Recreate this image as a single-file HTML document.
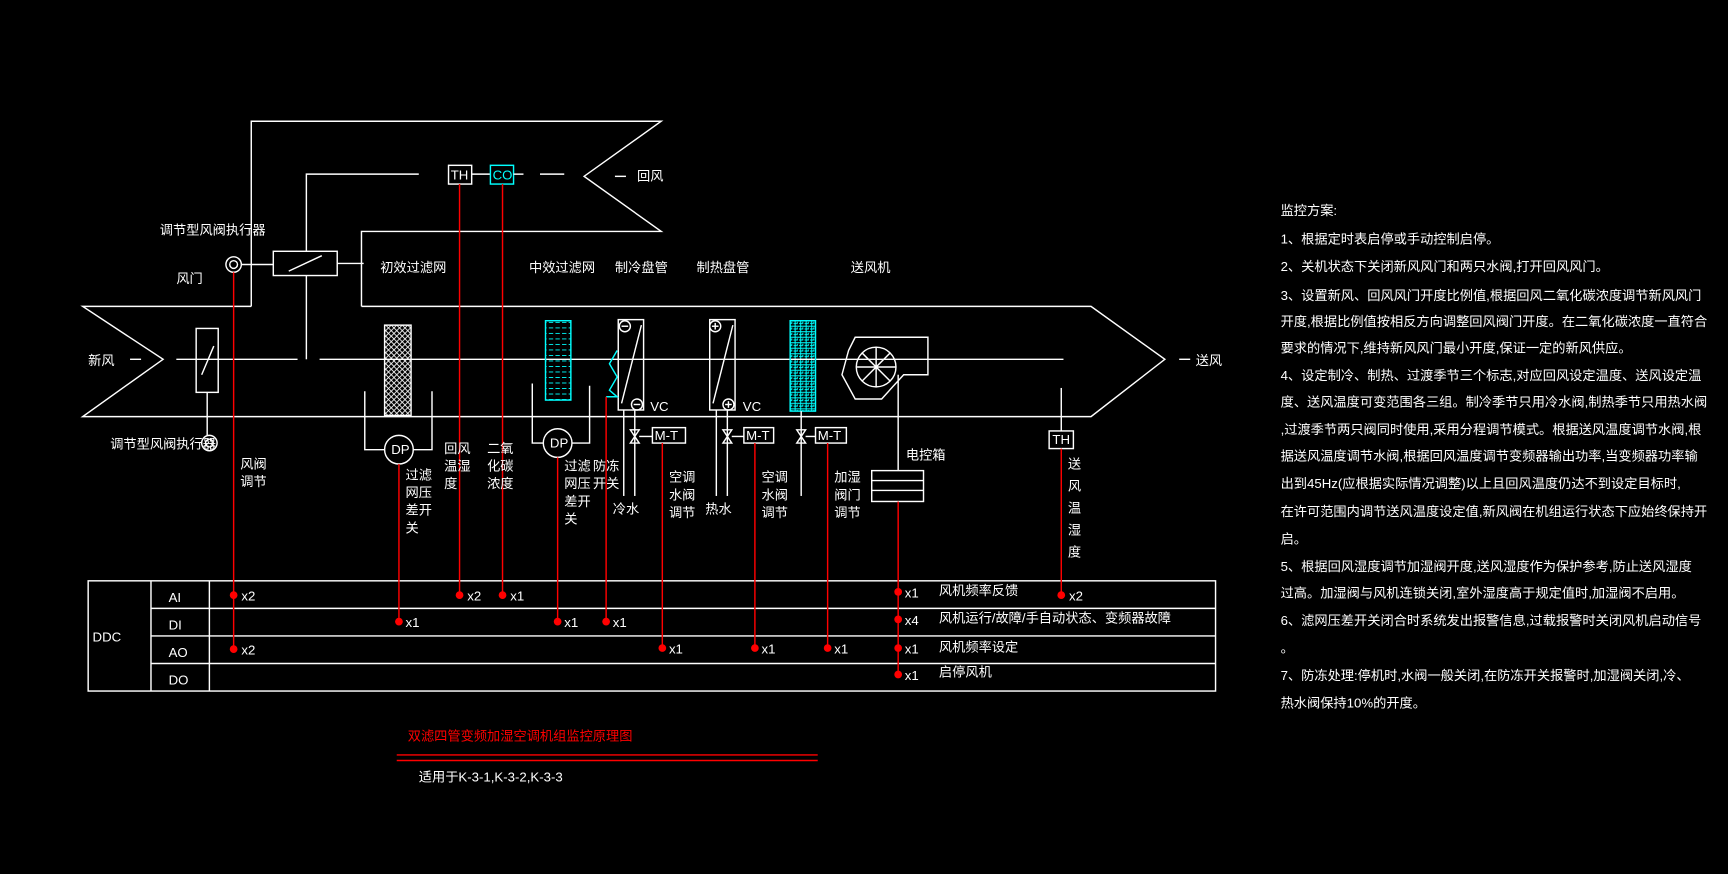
<!DOCTYPE html>
<html><head><meta charset="utf-8"><style>
html,body{margin:0;padding:0;background:#000;}
svg{display:block}
text{font-family:"Liberation Sans","Noto Sans CJK SC",sans-serif;fill:#fff;font-size:12px}
</style></head><body>
<svg width="1728" height="874" viewBox="0 0 1568 793" preserveAspectRatio="none" xmlns="http://www.w3.org/2000/svg">
<defs>
<pattern id="xh" width="5" height="5" patternUnits="userSpaceOnUse">
<path d="M0,0 L5,5 M5,0 L0,5" stroke="#fff" stroke-width="0.8"/>
</pattern>
<pattern id="st" width="6" height="5" patternUnits="userSpaceOnUse">
<path d="M0,2.5 L4,2.5" stroke="#0ff" stroke-width="0.8"/>
</pattern>
<pattern id="gr" width="5" height="5" patternUnits="userSpaceOnUse">
<path d="M0,1 L5,1 M1.5,0 L1.5,5 M3.5,2 L3.5,4 M0,3.5 L3,3.5" stroke="#0ff" stroke-width="0.9"/>
</pattern>
</defs>
<rect width="1568" height="793" fill="#000"/>
<rect x="349" y="295" width="24" height="82" fill="url(#xh)"/>
<rect x="495" y="291" width="23" height="72" fill="url(#st)"/>
<rect x="717" y="291" width="23" height="82" fill="url(#gr)"/>
<g stroke="#fff" stroke-width="1.3" fill="none">
<polyline points="228,278 228,110 600,110 530,160 600,210 328,210 328,278"/>
<polyline points="228,278 75,278 148,326 75,378 990,378 1057,326 990,278 328,278"/>
<line x1="118" y1="326" x2="128" y2="326"/>
<line x1="160" y1="326" x2="270" y2="326"/>
<line x1="290" y1="326" x2="965" y2="326"/>
<line x1="1070" y1="326" x2="1080" y2="326"/>
<line x1="558" y1="160" x2="568" y2="160"/>
<polyline points="380,158 278,158 278,228"/>
<line x1="278" y1="250" x2="278" y2="326"/>
<rect x="248" y="228" width="58" height="22"/>
<line x1="262" y1="246" x2="292" y2="232"/>
<line x1="428" y1="158" x2="445" y2="158"/>
<line x1="490" y1="158" x2="512" y2="158"/>
<rect x="407" y="150" width="21" height="17"/>
<rect x="445" y="150" width="21" height="17" stroke="#0ff"/>
<line x1="466" y1="158" x2="475" y2="158"/>
<line x1="306" y1="239" x2="330" y2="239"/>
<line x1="219" y1="240" x2="248" y2="240"/>
<rect x="178" y="298" width="20" height="58"/>
<line x1="183" y1="340" x2="194" y2="314"/>
<circle cx="212" cy="240" r="7"/><circle cx="212" cy="240" r="3.5"/>
<circle cx="190" cy="402" r="7"/><circle cx="190" cy="402" r="3.5"/>
<line x1="188" y1="356" x2="188" y2="395"/>
<!-- filter 1 -->
<rect x="349" y="295" width="24" height="82"/>
<polyline points="331,355 331,408 349,408"/><polyline points="392,355 392,408 375,408"/>
<circle cx="362" cy="408" r="13"/>
<!-- filter 2 -->
<rect x="495" y="291" width="23" height="72" stroke="#0ff"/>
<polyline points="483,348 483,402 493,402"/><polyline points="535,350 535,402 519,402"/>
<circle cx="506" cy="402" r="13"/>
<!-- cooling coil -->
<rect x="561" y="290" width="23" height="82"/>
<line x1="564" y1="366" x2="582" y2="295"/>
<circle cx="567" cy="296" r="5"/><line x1="564" y1="296" x2="570" y2="296"/>
<circle cx="578" cy="367" r="5"/><line x1="575" y1="367" x2="581" y2="367"/>
<polyline points="560,318 553,330 560,342 553,354 560,360 550,360" stroke="#0ff"/>
<line x1="566" y1="372" x2="566" y2="450"/><line x1="576" y1="372" x2="576" y2="450"/>
<polygon points="572,390 580,402 572,402 580,390"/>
<line x1="580" y1="396" x2="592" y2="396"/>
<rect x="592" y="388" width="30" height="14"/>
<!-- heating coil -->
<rect x="644" y="290" width="23" height="82"/>
<line x1="647" y1="366" x2="665" y2="295"/>
<circle cx="649" cy="296" r="5"/><line x1="646" y1="296" x2="652" y2="296"/><line x1="649" y1="293" x2="649" y2="299"/>
<circle cx="661" cy="367" r="5"/><line x1="658" y1="367" x2="664" y2="367"/><line x1="661" y1="364" x2="661" y2="370"/>
<line x1="650" y1="372" x2="650" y2="450"/><line x1="660" y1="372" x2="660" y2="450"/>
<polygon points="656,390 664,402 656,402 664,390"/>
<line x1="664" y1="396" x2="675" y2="396"/>
<rect x="675" y="388" width="27" height="14"/>
<!-- humidifier -->
<rect x="717" y="291" width="23" height="82" stroke="#0ff"/>
<line x1="727" y1="373" x2="727" y2="450"/>
<polygon points="723,390 731,402 723,402 731,390"/>
<line x1="731" y1="396" x2="740" y2="396"/>
<rect x="740" y="388" width="28" height="14"/>
<!-- fan -->
<polygon points="770,318 776,306 800,306 842,306 842,340 820,340 800,362 776,362 764,340"/>
<circle cx="795" cy="333" r="18"/>
<line x1="777" y1="333" x2="813" y2="333"/><line x1="795" y1="315" x2="795" y2="351"/>
<line x1="782" y1="320" x2="808" y2="346"/><line x1="808" y1="320" x2="782" y2="346"/>
<line x1="815" y1="340" x2="815" y2="427"/>
<rect x="791" y="427" width="47" height="28"/>
<line x1="791" y1="436" x2="838" y2="436"/><line x1="791" y1="445" x2="838" y2="445"/>
<line x1="963" y1="352" x2="963" y2="391"/>
<rect x="952" y="391" width="22" height="16"/>
<rect x="80" y="527" width="1023" height="100"/>
<line x1="137" y1="527" x2="137" y2="627"/><line x1="190" y1="527" x2="190" y2="627"/>
<line x1="137" y1="552" x2="1103" y2="552"/><line x1="137" y1="577" x2="1103" y2="577"/><line x1="137" y1="602" x2="1103" y2="602"/>
</g>
<g stroke="red" stroke-width="1.3">
<line x1="212" y1="247" x2="212" y2="589"/>
<line x1="417" y1="167" x2="417" y2="540"/>
<line x1="456" y1="167" x2="456" y2="540"/>
<line x1="362" y1="421" x2="362" y2="564"/>
<line x1="506" y1="415" x2="506" y2="564"/>
<line x1="550" y1="360" x2="550" y2="564"/>
<line x1="601" y1="402" x2="601" y2="588"/>
<line x1="685" y1="402" x2="685" y2="588"/>
<line x1="751" y1="402" x2="751" y2="588"/>
<line x1="815" y1="455" x2="815" y2="612"/>
<line x1="963" y1="407" x2="963" y2="540"/>
<line x1="360" y1="685" x2="742" y2="685"/><line x1="360" y1="690" x2="742" y2="690"/>
</g>
<g fill="red">
<circle cx="212" cy="540" r="3.5"/><circle cx="417" cy="540" r="3.5"/><circle cx="456" cy="540" r="3.5"/>
<circle cx="815" cy="537" r="3.5"/><circle cx="963" cy="540" r="3.5"/>
<circle cx="362" cy="564" r="3.5"/><circle cx="506" cy="564" r="3.5"/><circle cx="550" cy="564" r="3.5"/><circle cx="815" cy="562" r="3.5"/>
<circle cx="212" cy="589" r="3.5"/><circle cx="601" cy="588" r="3.5"/><circle cx="685" cy="588" r="3.5"/><circle cx="751" cy="588" r="3.5"/><circle cx="815" cy="588" r="3.5"/>
<circle cx="815" cy="612" r="3.5"/>
</g>
<g font-size="9">
<text x="409" y="163" font-size="9">TH</text><text x="447" y="163" font-size="9" style="fill:#0ff">CO</text>
<text x="355" y="412" font-size="9">DP</text><text x="499" y="406" font-size="9">DP</text>
<text x="594" y="399" font-size="9">M-T</text><text x="677" y="399" font-size="9">M-T</text><text x="742" y="399" font-size="9">M-T</text>
<text x="955" y="403" font-size="9">TH</text>
<text x="590" y="373" font-size="9">VC</text><text x="674" y="373" font-size="9">VC</text>
</g>
<text x="578" y="164">回风</text>
<text x="1085" y="331">送风</text>
<text x="80" y="331">新风</text>
<text x="145" y="213">调节型风阀执行器</text>
<text x="160" y="257">风门</text>
<text x="100" y="407">调节型风阀执行器</text>
<text x="345" y="247">初效过滤网</text>
<text x="480" y="247">中效过滤网</text>
<text x="558" y="247">制冷盘管</text>
<text x="632" y="247">制热盘管</text>
<text x="772" y="247">送风机</text>
<text x="822" y="417">电控箱</text>
<g font-size="11">
<text x="218" y="425">风阀</text><text x="218" y="441">调节</text>
<text x="368" y="435">过滤</text><text x="368" y="451">网压</text><text x="368" y="467">差开</text><text x="368" y="483">关</text>
<text x="403" y="411">回风</text><text x="403" y="427">温湿</text><text x="403" y="443">度</text>
<text x="442" y="411">二氧</text><text x="442" y="427">化碳</text><text x="442" y="443">浓度</text>
<text x="512" y="427">过滤</text><text x="512" y="443">网压</text><text x="512" y="459">差开</text><text x="512" y="475">关</text>
<text x="538" y="427">防冻</text><text x="538" y="443">开关</text>
<text x="556" y="466">冷水</text><text x="640" y="466">热水</text>
<text x="607" y="437">空调</text><text x="607" y="453">水阀</text><text x="607" y="469">调节</text>
<text x="691" y="437">空调</text><text x="691" y="453">水阀</text><text x="691" y="469">调节</text>
<text x="757" y="437">加湿</text><text x="757" y="453">阀门</text><text x="757" y="469">调节</text>
<text x="969" y="425">送</text><text x="969" y="445">风</text><text x="969" y="465">温</text><text x="969" y="485">湿</text><text x="969" y="505">度</text>
</g>
<g font-size="13">
<text x="84" y="582" font-size="14">DDC</text>
<text x="153" y="546">AI</text><text x="153" y="571">DI</text><text x="153" y="596">AO</text><text x="153" y="621">DO</text>
<text x="219" y="545">x2</text><text x="424" y="545">x2</text><text x="463" y="545">x1</text><text x="821" y="542">x1</text><text x="970" y="545">x2</text>
<text x="368" y="569">x1</text><text x="512" y="569">x1</text><text x="556" y="569">x1</text><text x="821" y="567">x4</text>
<text x="219" y="594">x2</text><text x="607" y="593">x1</text><text x="691" y="593">x1</text><text x="757" y="593">x1</text><text x="821" y="593">x1</text>
<text x="821" y="617">x1</text>
</g>
<g font-size="11">
<text x="852" y="540">风机频率反馈</text>
<text x="852" y="565">风机运行/故障/手自动状态、变频器故障</text>
<text x="852" y="591">风机频率设定</text>
<text x="852" y="614">启停风机</text>
</g>
<text x="370" y="672" style="fill:red" font-size="13">双滤四管变频加湿空调机组监控原理图</text>
<text x="380" y="709">适用于K-3-1,K-3-2,K-3-3</text>
<g font-size="11.5">
<text x="1162" y="195">监控方案:</text>
<text x="1162" y="221">1、根据定时表启停或手动控制启停。</text>
<text x="1162" y="246">2、关机状态下关闭新风风门和两只水阀,打开回风风门。</text>
<text x="1162" y="272">3、设置新风、回风风门开度比例值,根据回风二氧化碳浓度调节新风风门</text>
<text x="1162" y="296">开度,根据比例值按相反方向调整回风阀门开度。在二氧化碳浓度一直符合</text>
<text x="1162" y="320">要求的情况下,维持新风风门最小开度,保证一定的新风供应。</text>
<text x="1162" y="345">4、设定制冷、制热、过渡季节三个标志,对应回风设定温度、送风设定温</text>
<text x="1162" y="369">度、送风温度可变范围各三组。制冷季节只用冷水阀,制热季节只用热水阀</text>
<text x="1162" y="394">,过渡季节两只阀同时使用,采用分程调节模式。根据送风温度调节水阀,根</text>
<text x="1162" y="418">据送风温度调节水阀,根据回风温度调节变频器输出功率,当变频器功率输</text>
<text x="1162" y="443">出到45Hz(应根据实际情况调整)以上且回风温度仍达不到设定目标时,</text>
<text x="1162" y="468">在许可范围内调节送风温度设定值,新风阀在机组运行状态下应始终保持开</text>
<text x="1162" y="493">启。</text>
<text x="1162" y="518">5、根据回风湿度调节加湿阀开度,送风湿度作为保护参考,防止送风湿度</text>
<text x="1162" y="542">过高。加湿阀与风机连锁关闭,室外湿度高于规定值时,加湿阀不启用。</text>
<text x="1162" y="567">6、滤网压差开关闭合时系统发出报警信息,过载报警时关闭风机启动信号</text>
<text x="1162" y="592">。</text>
<text x="1162" y="617">7、防冻处理:停机时,水阀一般关闭,在防冻开关报警时,加湿阀关闭,冷、</text>
<text x="1162" y="642">热水阀保持10%的开度。</text>
</g>
</svg>
</body></html>
